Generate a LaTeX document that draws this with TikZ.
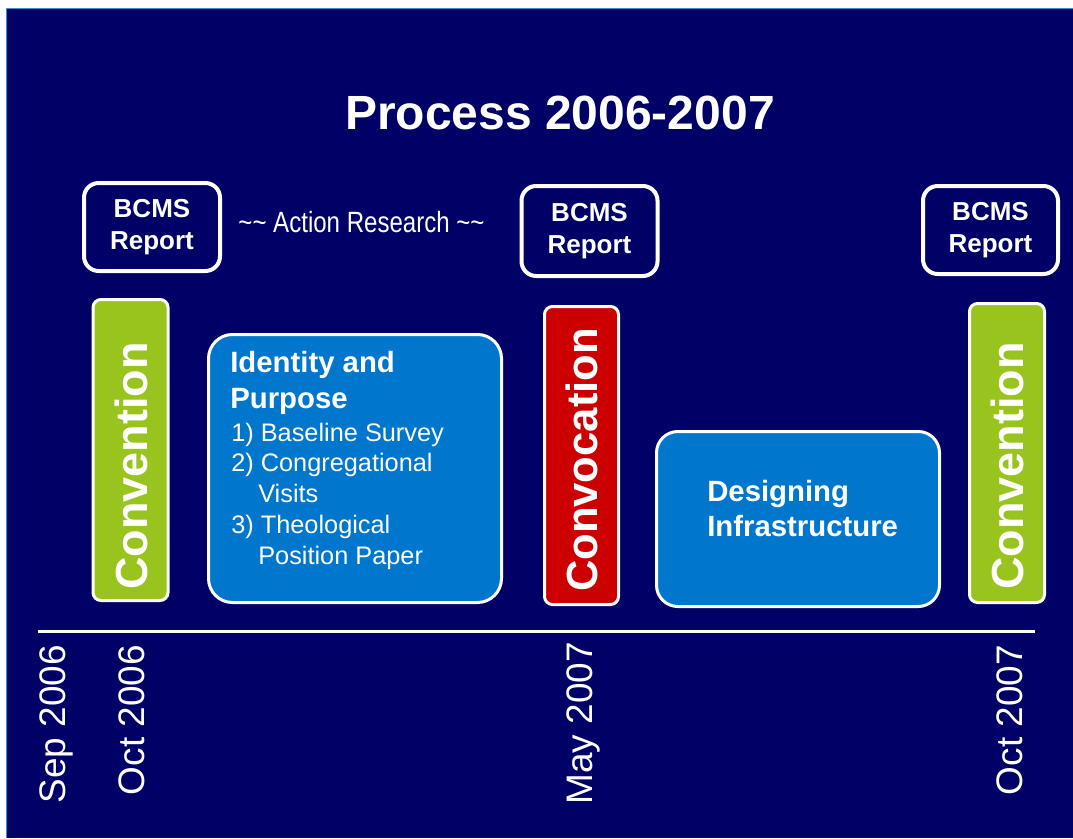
\documentclass[tikz,border=0pt]{standalone}
\usepackage{fontspec}
\setmainfont{Liberation Sans}
\usepackage{graphicx}
\definecolor{navy}{RGB}{0,0,102}
\definecolor{boxblue}{RGB}{0,119,204}
\definecolor{lime}{RGB}{153,196,29}
\definecolor{crimson}{RGB}{204,0,0}
\definecolor{edgeblue}{RGB}{60,140,200}
\begin{document}
\begin{tikzpicture}[x=0.75pt,y=-0.75pt,
  report/.style={draw=white, line width=3pt, rounded corners=11pt, text=white,
    font=\fontsize{19.5}{24}\selectfont\bfseries, align=center,
    minimum width=102pt, minimum height=66pt, inner sep=0pt},
  bar/.style={draw=white, line width=2.25pt, rounded corners=6pt,
    minimum width=56.25pt, minimum height=225pt, inner sep=0pt},
  phase/.style={draw=white, line width=2.25pt, fill=boxblue, inner sep=0pt},
  bartext/.style={rotate=90, text=white, font=\fontsize{33.7}{36}\selectfont\bfseries, inner sep=0pt},
  datelabel/.style={rotate=90, anchor=base east, text=white, font=\fontsize{27.7}{30}\selectfont, inner sep=0pt},
  head/.style={anchor=base west, text=white, font=\fontsize{22}{26}\selectfont\bfseries, inner sep=0pt},
  itemtext/.style={anchor=base west, text=white, font=\fontsize{19}{22}\selectfont, inner sep=0pt}
]
\useasboundingbox (0,0) rectangle (1073,838);
\fill[white] (0,0) rectangle (1073,838);
\fill[navy] (6,9) rectangle (1073,838);
\draw[edgeblue, line width=0.75pt] (6,838) -- (6,9) -- (1073,9);

% title
\node[anchor=base, text=white, font=\fontsize{36}{40}\selectfont\bfseries, inner sep=0pt] (title) at (560,130) {Process 2006-2007};

% reports
\node[report] (rep1) at (152,227) {BCMS\\Report};
\node[report, minimum height=67.5pt] (rep2) at (589.5,231) {BCMS\\Report};
\node[report, minimum width=101.25pt] (rep3) at (990.5,230) {BCMS\\Report};
\node[anchor=base, text=white, font=\fontsize{22}{26}\selectfont, inner sep=0pt] (ar) at (361.5,232)
  {\scalebox{0.82}[1]{\textasciitilde\textasciitilde{} Action Research \textasciitilde\textasciitilde}};

% bars
\node[bar, fill=lime, minimum height=225.75pt] (conv1) at (130.5,450) {};
\node[bartext] (conv1t) at (131,466) {Convention};
\node[bar, fill=crimson, minimum width=55.5pt, minimum height=223.5pt] (convoc) at (581.5,455.5) {};
\node[bartext] (convoct) at (582,460) {\scalebox{0.97}{Convocation}};
\node[bar, fill=lime, minimum height=224.25pt] (conv2) at (1007,453) {};
\node[bartext] (conv2t) at (1007.5,466) {Convention};

% phases
\node[phase, rounded corners=18pt, minimum width=219.75pt, minimum height=201pt] (ident) at (355,468.5) {};
\node[head] (i1) at (230,372) {Identity and};
\node[head] (i2) at (230,408) {Purpose};
\node[itemtext] (i3) at (231,441) {1) Baseline Survey};
\node[itemtext] (i4) at (231,471) {2) Congregational};
\node[itemtext] (i5) at (258,502) {Visits};
\node[itemtext] (i6) at (231,533) {3) Theological};
\node[itemtext] (i7) at (258,564) {Position Paper};

\node[phase, rounded corners=16pt, minimum width=212.25pt, minimum height=131.25pt] (design) at (798,519) {};
\node[head] (d1) at (707,501) {Designing};
\node[head] (d2) at (707,536) {Infrastructure};

% axis
\coordinate (axL) at (38,631);
\coordinate (axR) at (1035,631);
\draw[white, line width=2.25pt] (axL) -- (axR);

\node[datelabel] (sep06) at (65,645) {Sep 2006};
\node[datelabel] (oct06) at (144,645) {Oct 2006};
\node[datelabel] (may07) at (592,642) {May 2007};
\node[datelabel] (oct07) at (1022,645) {Oct 2007};
\end{tikzpicture}
\end{document}
